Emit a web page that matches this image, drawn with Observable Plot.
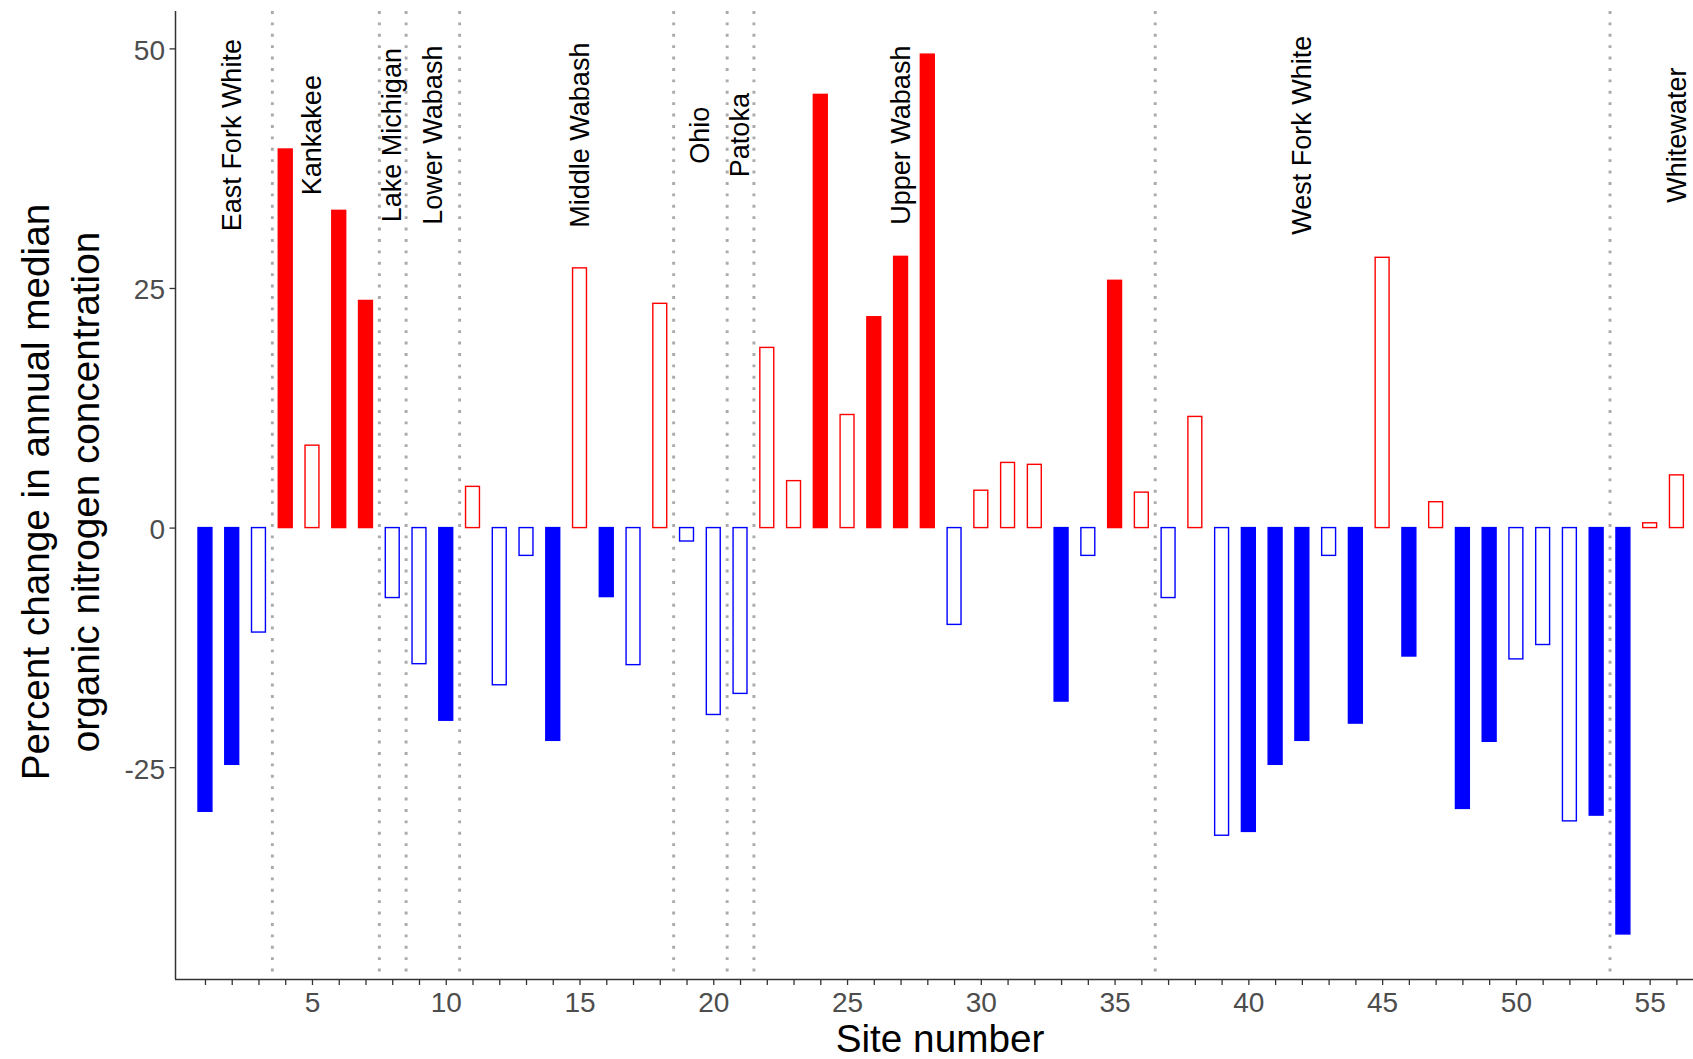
<!DOCTYPE html>
<html>
<head>
<meta charset="utf-8">
<script src="https://cdn.jsdelivr.net/npm/d3@7"></script>
<script src="https://cdn.jsdelivr.net/npm/@observablehq/plot@0.6"></script>
<style>
  html, body { margin: 0; padding: 0; background: #ffffff; }
  #chart svg { display: block; }
</style>
</head>
<body>
<div id="chart"></div>
<script>
// ---- data ----
const sites = [1,2,3,4,5,6,7,8,9,10,11,12,13,14,15,16,17,18,19,20,21,22,23,24,25,26,27,28,
               29,30,31,32,33,34,35,36,37,38,39,40,41,42,43,44,45,46,47,48,49,50,51,52,53,54,55,56];
const values = [-29.6,-24.7,-10.9,39.5,8.6,33.1,23.7,-7.3,-14.2,-20.1,4.3,-16.4,-2.9,-22.2,27.1,-7.2,
                -14.3,23.4,-1.4,-19.5,-17.3,18.8,4.9,45.2,11.8,22.0,28.3,49.4,-10.1,3.9,6.8,6.6,
                -18.1,-2.9,25.8,3.7,-7.3,11.6,-32.1,-31.7,-24.7,-22.2,-2.9,-20.4,28.2,-13.4,2.7,
                -29.3,-22.3,-13.7,-12.2,-30.6,-30.0,-42.4,0.5,5.5];
// 1 = filled (significant trend), 0 = hollow
const significant = [1,1,0,1,0,1,1,0,0,1,0,0,0,1,0,1,0,0,0,0,0,0,0,1,0,1,1,1,0,0,0,0,
                     1,0,1,0,0,0,0,1,1,1,0,1,0,1,0,1,1,0,0,0,1,1,0,0];
const regions = ["East Fork White","Kankakee","Lake Michigan","Lower Wabash","Middle Wabash",
                 "Ohio","Patoka","Upper Wabash","West Fork White","Whitewater"];
const regionLabelSite = [2,5,8,9.5,15,19.5,21,27,42,56];
const regionLabelValue = 41;
const regionBoundaries = [3.5,7.5,8.5,10.5,18.5,20.5,21.5,36.5,53.5];
const xTickLabels = [5,10,15,20,25,30,35,40,45,50,55];
const yTicks = [-25,0,25,50];
const xTitle = "Site number";
const yTitleLines = ["Percent change in annual median","organic nitrogen concentration"];

// ---- build table ----
const data = sites.map((s, i) => ({site: s, value: values[i], sig: significant[i] === 1}));
const barColor = d => d.value >= 0 ? "#ff0000" : "#0000ff";
const half = 0.26;

const xDomain = [-0.12, 56.62];
const yDomain = [-47.1, 53.9];
const W = 1693, H = 1059;
const font = "'Liberation Sans', Arial, Helvetica, sans-serif";

const chart = Plot.plot({
  width: W,
  height: H,
  marginLeft: 175,
  marginRight: 0,
  marginTop: 11,
  marginBottom: 80,
  style: {fontFamily: font, background: "#ffffff", color: "#000"},
  color: {type: "identity"},
  x: {domain: xDomain, label: null},
  y: {domain: yDomain, label: null},
  marks: [
    Plot.ruleX(regionBoundaries, {stroke: "#aaaaaa", strokeWidth: 2.9, strokeDasharray: "2.9 8.5"}),
    Plot.rectY(data, {
      x1: d => d.site - half,
      x2: d => d.site + half,
      y1: 0,
      y2: "value",
      fill: d => d.sig ? barColor(d) : "#ffffff",
      stroke: barColor,
      strokeWidth: 1.4
    }),
    Plot.text(regions, {
      x: (d, i) => regionLabelSite[i],
      y: () => regionLabelValue,
      text: d => d,
      rotate: -90,
      fontSize: 27,
      fill: "#000000"
    }),
    Plot.axisX({
      ticks: sites,
      tickFormat: d => xTickLabels.includes(d) ? String(d) : "",
      tickSize: 6,
      tickPadding: 7,
      fontSize: 28,
      fill: "#4d4d4d",
      stroke: "#333333",
      strokeWidth: 1.3,
      label: null
    }),
    // y tick marks
    Plot.axisY({
      ticks: yTicks,
      tickFormat: () => "",
      tickSize: 5.5,
      stroke: "#333333",
      strokeWidth: 1.3,
      label: null
    }),
    // y tick labels (nudged slightly down, as in the reference)
    Plot.axisY({
      ticks: yTicks,
      tickFormat: d => String(d),
      tickSize: 0,
      tickPadding: 10.5,
      fontSize: 28,
      dy: 2,
      fill: "#4d4d4d",
      label: null
    }),
    Plot.ruleX([xDomain[0]], {stroke: "#333333", strokeWidth: 1.5}),
    Plot.ruleY([yDomain[0]], {stroke: "#333333", strokeWidth: 1.5})
  ]
});

document.getElementById("chart").appendChild(chart);

// axis titles
const svg = d3.select(chart);
svg.append("text")
  .attr("x", 940).attr("y", 1052)
  .attr("text-anchor", "middle")
  .attr("font-family", font)
  .attr("font-size", 38.7)
  .attr("fill", "#000")
  .text(xTitle);

const yTitleX = [49, 99];
yTitleLines.forEach((line, i) => {
  svg.append("text")
    .attr("transform", `translate(${yTitleX[i]},492) rotate(-90)`)
    .attr("text-anchor", "middle")
    .attr("font-family", font)
    .attr("font-size", 38.7)
    .attr("fill", "#000")
    .text(line);
});
</script>
</body>
</html>
